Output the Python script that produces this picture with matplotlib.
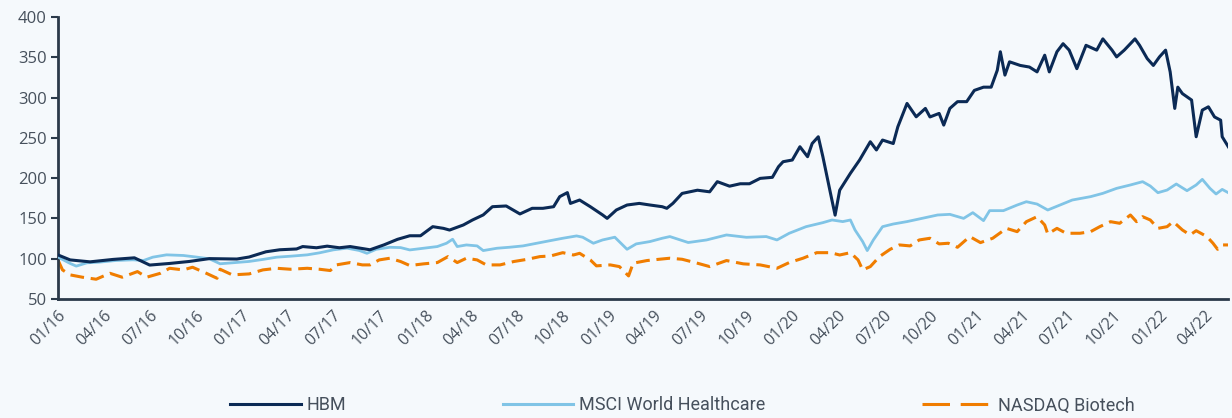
import matplotlib
matplotlib.use("Agg")
import matplotlib.pyplot as plt
import matplotlib.dates as mdates
from matplotlib.lines import Line2D
import numpy as np
import pandas as pd

# time axis of each series: months since 01/2016
hbm_t = [0, 0.8, 2.1, 3.6, 5.0, 6.0, 7.3, 8.6, 9.9, 11.7, 12.5, 13.6, 14.5, 15.6, 16.0,
         16.9, 17.6, 18.4, 19.1, 20.4, 21.3, 22.2, 23.0, 23.7, 24.5, 25.2, 25.6, 26.5,
         27.1, 27.8, 28.4, 29.3, 30.2, 31.0, 31.7, 32.4, 32.8, 33.3, 33.5, 34.1, 34.8,
         35.6, 35.9, 36.5, 37.2, 38.0, 38.7, 39.5, 39.8, 40.2, 40.8, 41.8, 42.6, 43.1,
         43.9, 44.6, 45.2, 45.9, 46.7, 47.1, 47.4, 48.0, 48.5, 49.0, 49.3, 49.7, 50.0,
         50.5, 50.8, 51.1, 51.8, 52.4, 53.1, 53.5, 53.9, 54.6, 54.9, 55.5, 56.1, 56.7,
         57.0, 57.6, 57.9, 58.3, 58.8, 59.4, 59.9, 60.5, 61.0, 61.4, 61.6, 61.9, 62.2,
         62.9, 63.5, 64.0, 64.5, 64.8, 65.3, 65.7, 66.1, 66.6, 67.2, 67.9, 68.3, 68.9,
         69.2, 69.7, 70.4, 70.7, 71.2, 71.6, 72.0, 72.4, 72.7, 73.0, 73.2, 73.5, 74.1,
         74.4, 74.8, 75.2, 75.6, 76.0, 76.1, 76.5]
hbm = [104.6, 98.4, 96, 99, 101, 92, 94, 96.5, 100, 99.5, 102, 108.5, 111, 112, 115,
       113.5, 115.5, 113.5, 115, 111, 117, 124, 128.4, 128.4, 139.7, 137.6, 135.5, 141.8,
       148, 154.3, 164.5, 165.4, 155.5, 162.5, 162.5, 164.5, 177, 182, 168.6, 172.8, 164.5,
       154.3, 150, 160.4, 166.6, 168.6, 166.6, 164.5, 162.5, 168.7, 181, 185, 183, 195.6,
       190, 193, 193, 199.7, 201, 214.2, 220.4, 222.5, 239, 226.6, 243, 251.4, 226.6,
       181, 154, 185, 206, 222.5, 245.2, 235, 247.3, 243, 263.8, 292.8, 276.2, 286.6,
       276, 280.4, 265.9, 286.6, 295, 295, 309, 313, 313, 334, 357, 328, 344.5,
       340, 338, 332, 352.7, 332, 357, 367, 359, 336, 365, 359, 373, 359,
       350.6, 359, 373, 365, 348.5, 340, 350.6, 359, 332, 286.6, 313, 305, 297,
       251.4, 284.5, 288.6, 276, 272, 251.4, 239]

msci_t = [0, 0.8, 1.2, 1.9, 2.7, 3.8, 4.9, 5.6, 6.2, 7.1, 8.2, 9.1, 9.9, 10.6, 11.4,
          12.5, 13.4, 14.3, 15.2, 16.3, 17.1, 18.0, 18.9, 19.7, 20.2, 20.8, 21.7, 22.4,
          23.0, 23.9, 24.8, 25.4, 25.8, 26.1, 26.7, 27.4, 27.8, 28.7, 29.5, 30.4, 31.3,
          32.2, 33.0, 33.9, 34.3, 35.0, 35.6, 36.4, 37.2, 37.8, 38.7, 39.5, 40.0, 41.2,
          42.4, 43.7, 45.0, 46.3, 47.0, 47.8, 48.9, 50.0, 50.6, 51.3, 51.8, 52.1, 52.6,
          52.9, 53.3, 53.9, 54.6, 55.5, 56.5, 57.5, 58.3, 59.2, 59.8, 60.5, 60.9, 61.8,
          62.7, 63.3, 64.0, 64.7, 65.5, 66.3, 67.5, 68.3, 69.2, 70.1, 70.9, 71.4, 71.9,
          72.5, 73.1, 73.8, 74.4, 74.8, 75.3, 75.7, 76.1, 76.5]
msci = [102, 94, 90.7, 94.8, 95.6, 97.7, 98.5, 97.7, 101.8, 104.7, 103.9, 101.8, 99.8, 93.6, 94.8,
        96.5, 99, 101.8, 103, 104.7, 107.2, 110.9, 113, 110.1, 106.6, 111.6, 114.1, 113.7,
        110.8, 112.9, 115, 119.1, 124.1, 115, 117, 115.8, 110, 112.9, 114.1, 115.8, 119.1,
        122.4, 125.3, 128.2, 126.6, 119.1, 123.2, 126.6, 111.6, 118.3, 121.2, 125.3, 127.4, 120,
        123.2, 129.4, 126.5, 127.4, 123.2, 131.5, 139.7, 144.7, 148, 146, 148, 135.6, 121.2,
        110, 123.2, 139.7, 143, 146, 150.1, 154.2, 155, 150, 157.1, 147.2, 159.6, 159.6,
        166.6, 170.7, 167.8, 160.4, 166.6, 172.8, 177, 181.1, 187.3, 191.5, 195.6, 190.2, 181.9,
        185.2, 192.7, 184.4, 191.5, 198.5, 187.3, 180.3, 186, 181.9]

nbi_t = [0, 0.3, 0.8, 1.6, 2.5, 3.4, 4.2, 5.2, 5.8, 6.7, 7.3, 8.2, 8.8, 9.7, 10.4, 10.6,
         11.4, 12.5, 13.4, 14.3, 15.2, 16.3, 17.1, 17.8, 18.2, 19.1, 19.9, 20.4, 21.0, 21.7,
         22.4, 23.0, 23.9, 24.8, 25.5, 26.1, 26.7, 27.4, 28.0, 28.9, 29.8, 30.7, 31.5,
         32.2, 33.0, 33.7, 34.1, 34.8, 35.2, 36.1, 36.7, 37.3, 37.6, 38.5, 39.3, 40.0,
         40.8, 41.8, 42.6, 43.7, 44.8, 45.9, 47.0, 47.8, 48.7, 49.6, 50.5, 51.1, 51.8,
         52.3, 52.6, 53.1, 53.7, 54.4, 55.0, 55.7, 56.3, 57.0, 57.6, 58.2, 58.8, 59.6,
         60.3, 61.1, 62.0, 62.7, 63.3, 64.0, 64.5, 64.7, 65.3, 65.9, 66.8, 67.5, 68.1,
         68.8, 69.4, 70.1, 70.5, 70.9, 71.4, 71.9, 72.5, 72.9, 73.5, 74.0, 74.4, 75.1,
         75.5, 75.8, 76.1, 76.5]
nbi = [98.4, 86, 79.8, 76.9, 74.4, 81.8, 76.9, 83.9, 76.9, 81.8, 88, 86, 89.3, 81.8, 75.6, 86.8,
       79.8, 81, 86, 88, 86.8, 88, 86.8, 85.2, 92.2, 95.1, 92.2, 92.2, 98.4, 100.5,
       96.4, 91.4, 93.5, 95.1, 102.5, 95.1, 100.5, 98.4, 92.2, 92.2, 96.4, 99.2, 102.5,
       103.3, 107.4, 104.5, 106.6, 98.4, 91, 92.2, 90.1, 78.5, 94.3, 97.6, 99.2, 100.5,
       99.2, 94.3, 90.1, 97.6, 93.5, 92.2, 88, 95.1, 100.5, 107.4, 107.4, 104.5, 107.4,
       98.4, 86, 90.1, 102.5, 111.6, 117, 115.8, 123.2, 125.3, 118.3, 119.1, 114.1, 127.4,
       119.9, 125.3, 137.6, 133.5, 145.9, 152.1, 141.8, 130.6, 137.6, 131.5, 131.5, 133.5, 139.7,
       145.9, 143.9, 154.2, 145.9, 152.1, 148, 137.6, 139.7, 145.9, 135.6, 129.4, 134.7, 127.4,
       119.1, 111.6, 117, 117]

series_names = ["HBM", "MSCI World Healthcare", "NASDAQ Biotech"]
start = pd.Timestamp("2016-01-01")
end_month = 76.5


def to_dates(months):
    return start + pd.to_timedelta(np.array(months) * 30.44, unit="D")


bg = "#f5f9fc"
txt = "#46505c"
c_hbm, c_msci, c_nbi = "#0b2a55", "#80c4e6", "#f07d00"
plt.rcParams["font.family"] = ["Open Sans", "DejaVu Sans"]

fig = plt.figure(figsize=(12.32, 4.18), dpi=100, facecolor=bg)
ax = fig.add_axes([0.047, 0.285, 0.950, 0.674], facecolor=bg)

ax.plot(to_dates(nbi_t), nbi, color=c_nbi, lw=2.2, dashes=(4.5, 2.2), zorder=2)
ax.plot(to_dates(msci_t), msci, color=c_msci, lw=2.0, zorder=3)
ax.plot(to_dates(hbm_t), hbm, color=c_hbm, lw=2.2, zorder=4)

ax.set_ylim(50, 400)
ax.set_yticks(range(50, 401, 50))
ax.set_xlim(start, start + pd.Timedelta(days=end_month * 30.44))
ax.xaxis.set_major_locator(mdates.MonthLocator(bymonth=[1, 4, 7, 10]))
ax.xaxis.set_major_formatter(mdates.DateFormatter("%m/%y"))

for s in ["top", "right"]:
    ax.spines[s].set_visible(False)
for s in ["left", "bottom"]:
    ax.spines[s].set_color("#2b3a4a")
    ax.spines[s].set_linewidth(2)

ax.tick_params(axis="y", length=5, width=1.5, color="#2b3a4a", labelsize=12,
               labelcolor=txt, pad=3)
ax.tick_params(axis="x", length=0, labelsize=11.5, labelcolor=txt, pad=6)
for lab in ax.get_xticklabels():
    lab.set_rotation(45)
    lab.set_ha("right")
    lab.set_rotation_mode("anchor")

# legend proxies (the legend dashes are longer than in the plot)
handles = [Line2D([], [], color=c_hbm, lw=2.2),
           Line2D([], [], color=c_msci, lw=2.2),
           Line2D([], [], color=c_nbi, lw=2.2, dashes=(9, 3.5))]
leg = fig.legend(handles, series_names,
                 loc="center", bbox_to_anchor=(0.554, 0.03), ncol=3,
                 frameon=False, handlelength=3.9, handletextpad=0.3, columnspacing=8.7,
                 prop={"family": ["Roboto", "DejaVu Sans"], "size": 13})
for t in leg.get_texts():
    t.set_color(txt)

fig.savefig("out.png", dpi=100, facecolor=bg)
